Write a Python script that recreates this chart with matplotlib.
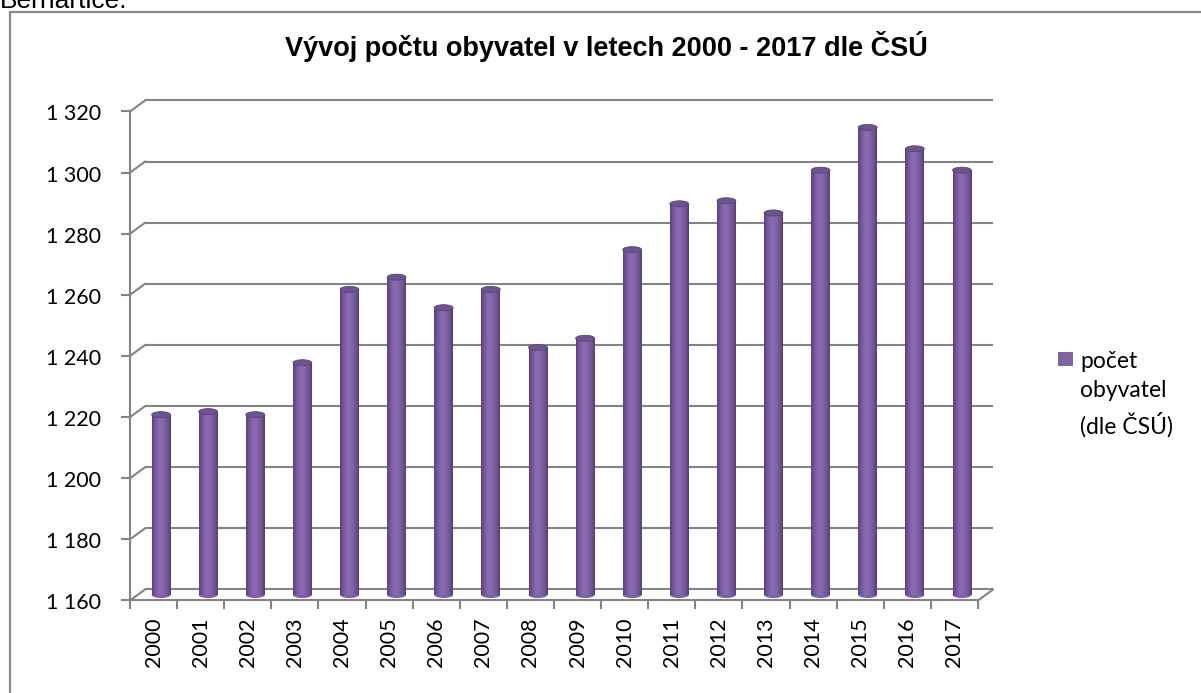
import numpy as np
import matplotlib
matplotlib.use('Agg')
import matplotlib.pyplot as plt
from matplotlib.patches import Ellipse, Rectangle
from matplotlib.colors import LinearSegmentedColormap

years = [str(y) for y in range(2000, 2018)]
population = [1219, 1220, 1219, 1236, 1260, 1264, 1254, 1260, 1241,
              1244, 1273, 1288, 1289, 1285, 1299, 1313, 1306, 1299]
yticks = [1160, 1180, 1200, 1220, 1240, 1260, 1280, 1300, 1320]
ytick_labels = ['1 160', '1 180', '1 200', '1 220', '1 240',
                '1 260', '1 280', '1 300', '1 320']
title = 'Vývoj počtu obyvatel v letech 2000 - 2017 dle ČSÚ'
legend_label = 'počet\nobyvatel\n(dle ČSÚ)'

W, H = 1201, 693
fig = plt.figure(figsize=(W / 100, H / 100), dpi=100)

# plot area (middle depth of the 3d box) in pixels
left, right, y0px, y1px = 137.5, 985.5, 595, 106
ax = fig.add_axes([left / W, (H - y0px) / H, (right - left) / W, (y0px - y1px) / H])
ymin, ymax = yticks[0], yticks[-1]
n = len(years)
ax.set_xlim(-0.5, n - 0.5)
ax.set_ylim(ymin, ymax)
ax.axis('off')

pxx = (right - left) / n          # pixels per category
pxy = (y0px - y1px) / (ymax - ymin)  # pixels per unit
DX = 7.5 / pxx
DY = 5.5 / pxy
grid_c = '#848484'
lw = 1.5

# back wall gridlines + left wall diagonals + y ticks
for t, tl in zip(yticks, ytick_labels):
    ax.plot([-0.5 + DX, n - 0.5 + DX], [t + DY, t + DY], color=grid_c, lw=lw, clip_on=False,
            solid_capstyle='butt')
    ax.plot([-0.5 - DX, -0.5 + DX], [t - DY, t + DY], color=grid_c, lw=lw, clip_on=False)
    ax.plot([-0.5 - DX - 8 / pxx, -0.5 - DX], [t - DY, t - DY], color=grid_c, lw=lw, clip_on=False)
    ax.annotate(tl, (-0.5 - DX, t - DY), xytext=(-29, -3), textcoords='offset pixels',
                ha='right', va='center', fontsize=15.5, family='Lato', color='black',
                annotation_clip=False)

# front left vertical axis
ax.plot([-0.5 - DX, -0.5 - DX], [ymin - DY, ymax - DY], color=grid_c, lw=lw, clip_on=False)
# floor front edge and right diagonal
ax.plot([-0.5 - DX, n - 0.5 - DX], [ymin - DY, ymin - DY], color=grid_c, lw=lw, clip_on=False)
ax.plot([n - 0.5 - DX, n - 0.5 + DX], [ymin - DY, ymin + DY], color=grid_c, lw=lw, clip_on=False)

# x ticks and labels
for k in range(n + 1):
    ax.plot([k - 0.5 - DX, k - 0.5 - DX], [ymin - DY, ymin - DY - 8 / pxy],
            color=grid_c, lw=lw, clip_on=False)
for k, lab in enumerate(years):
    ax.annotate(lab, (k - DX, ymin - DY), xytext=(0, -17), textcoords='offset pixels',
                ha='center', va='top', rotation=90, fontsize=15.5, family='Lato',
                annotation_clip=False)

# cylinder bars
cmap = LinearSegmentedColormap.from_list('cyl', [
    (0.0, '#5a4374'), (0.18, '#7558a0'), (0.4, '#8a6cb2'),
    (0.6, '#8566ab'), (0.85, '#6e5394'), (1.0, '#553f6e')])
grad = np.linspace(0, 1, 64).reshape(1, -1)
bw = 0.40
eh = 6 / pxy
bars = ax.bar(range(n), [v - ymin for v in population], bottom=ymin, width=bw,
              color='none', edgecolor='none')
for rect, v in zip(bars, population):
    x0 = rect.get_x()
    ax.add_patch(Ellipse((x0 + bw / 2, ymin), bw, eh, facecolor='#7c5fa6',
                         edgecolor='none', clip_on=False, zorder=2))
    ax.imshow(grad, cmap=cmap, extent=[x0, x0 + bw, ymin, v], aspect='auto',
              zorder=3, clip_on=False, interpolation='bilinear')
    ax.add_patch(Ellipse((x0 + bw / 2, v), bw, eh, facecolor='#6d5490',
                         edgecolor='#5b4477', lw=0.6, clip_on=False, zorder=4))
ax.set_xlim(-0.5, n - 0.5)
ax.set_ylim(ymin, ymax)

# title
fig.text(606 / W, 1 - 46 / H, title, ha='center', va='center', fontsize=19.5,
         fontweight='bold', family='Liberation Sans')

# legend
fig.patches.append(Rectangle((1058 / W, 1 - 366 / H), 15 / W, 14 / H,
                             transform=fig.transFigure, facecolor='#8064a2',
                             edgecolor='none'))
fig.text(1080 / W, 1 - 351 / H, legend_label, ha='left', va='top', fontsize=16.5,
         family='Lato', linespacing=1.5)

# chart border (continues past right and bottom)
fig.patches.append(Rectangle((10 / W, -0.1), 1.2, 1 - 11.5 / H + 0.1,
                             transform=fig.transFigure, facecolor='none',
                             edgecolor='#8a8a8a', lw=1.6, clip_on=False))

# text cut at the top of the page
fig.text(0.0, 1 - 8 / H, 'Bernartice.', ha='left', va='baseline', fontsize=19,
         family='Liberation Sans')

fig.savefig('out.png', dpi=100)
